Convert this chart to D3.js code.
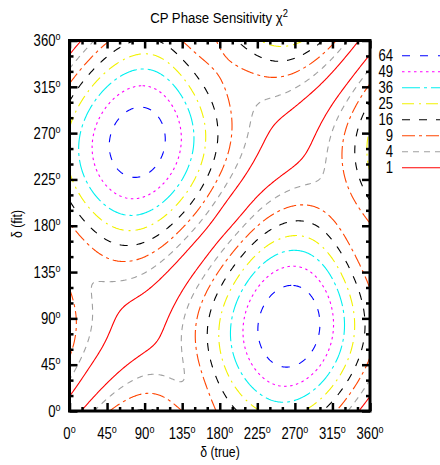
<!DOCTYPE html>
<meta charset="utf-8">
<script src="https://d3js.org/d3.v7.min.js"></script>
<style>
  body { margin: 0; background: #fff; }
  svg text { font-family: 'Liberation Sans', Arial, sans-serif; fill: #000; }
</style>
<div id="chart"></div>
<script>
  // grid nodes (degrees), same for delta(true) and delta(fit)
  var deltaNodes = [0, 30, 60, 90, 120, 150, 180, 210, 240, 270, 300, 330];

  // chi^2 estimated from the plot, one row per delta(true) node,
  // columns are the delta(fit) nodes above
  var chi2Grid = [
    [0, 3.9, 10.5, 12.5, 8.8, 5.3, 8.4, 18.0, 26.5, 26.1, 16.4, 4.8],
    [4.1, 0, 1.9, 3.6, 3.8, 7.3, 18.6, 35.7, 49.1, 49.7, 36.5, 17.7],
    [12.2, 2.2, 0, 0.7, 3.0, 10.7, 27.3, 49.6, 67.0, 69.4, 54.9, 31.9],
    [16.9, 5.0, 0.8, 0, 1.5, 9.1, 26.5, 50.3, 69.7, 74.0, 60.7, 37.8],
    [12.8, 4.3, 2.2, 1.2, 0, 3.4, 16.3, 36.7, 54.9, 60.0, 49.2, 29.7],
    [6.6, 5.7, 8.3, 7.9, 3.3, 0, 4.8, 17.7, 30.9, 35.1, 27.7, 15.2],
    [10.0, 17.5, 24.8, 24.5, 15.6, 4.7, 0, 4.0, 11.5, 14.9, 12.3, 8.5],
    [19.0, 35.1, 48.4, 49.6, 37.0, 18.4, 4.3, 0, 2.2, 4.8, 5.6, 8.7],
    [27.8, 50.7, 69.2, 72.5, 58.2, 34.5, 13.5, 2.5, 0, 0.9, 3.4, 11.1],
    [27.7, 52.8, 73.7, 78.8, 65.3, 41.1, 18.7, 5.6, 0.9, 0, 1.5, 9.5],
    [17.5, 39.1, 58.2, 63.7, 52.6, 32.6, 15.0, 5.9, 3.1, 1.5, 0, 3.7],
    [5.1, 18.4, 31.6, 35.2, 27.3, 14.9, 7.2, 7.3, 10.1, 9.1, 3.6, 0]
  ];

  var levels = [1, 4, 9, 16, 25, 36, 49, 64];
  var majorTicks = [0, 45, 90, 135, 180, 225, 270, 315, 360];
  var minorTicks = [15, 30, 60, 75, 105, 120, 150, 165, 195, 210, 240, 255, 285, 300, 330, 345];

  // gnuplot-ish line types per level
  var lineStyle = {
    1:  {color: "#ff0000", dash: null},
    4:  {color: "#a0a0a0", dash: "6,5"},
    9:  {color: "#ff4500", dash: "13,4,3,4"},
    16: {color: "#000000", dash: "8,9"},
    25: {color: "#f2f200", dash: "12,5,2,5"},
    36: {color: "#00f0f0", dash: "18,4,3,4"},
    49: {color: "#ff00ff", dash: "2.5,3.5"},
    64: {color: "#0000ff", dash: "8,10"}
  };

  var box = {left: 69.5, right: 370, top: 40.5, bottom: 411};
  var narrow = 0.82; // the original uses a condensed face

  var svg = d3.select("#chart")
    .append("svg")
    .attr("width", 440)
    .attr("height", 465);

  var x = d3.scaleLinear().domain([0, 360]).range([box.left, box.right]);
  var y = d3.scaleLinear().domain([0, 360]).range([box.bottom, box.top]);

  // periodic trig resampling of the 30 deg grid onto 1 deg steps
  var N = deltaNodes.length, M = 361;
  function kernel(u) {
    var r = u * Math.PI / 180, s = Math.sin(r / 2);
    if (Math.abs(s) < 1e-9) return 1;
    return Math.sin(N * r / 2) * Math.cos(r / 2) / (N * s);
  }
  var K = d3.range(M).map(function(p) {
    return deltaNodes.map(function(n) { return kernel(p - n); });
  });
  var rowsFine = chi2Grid.map(function(row) {
    return K.map(function(k) {
      return d3.sum(row, function(v, j) { return v * k[j]; });
    });
  });
  var values = new Float64Array(M * M);
  for (var q = 0; q < M; q++) {
    for (var p = 0; p < M; p++) {
      var s = 0;
      for (var i = 0; i < N; i++) s += K[p][i] * rowsFine[i][q];
      values[p + q * M] = s;
    }
  }

  var contours = d3.contours().size([M, M]).thresholds(levels)(values);

  // drop the bits of each ring that run along the grid border
  function onBorder(a, b) {
    return (a[0] <= 0 && b[0] <= 0) || (a[0] >= M && b[0] >= M) ||
           (a[1] <= 0 && b[1] <= 0) || (a[1] >= M && b[1] >= M);
  }
  function pieces(ring) {
    var n = ring.length - 1, start = -1;
    for (var k = 0; k < n; k++) {
      if (onBorder(ring[k], ring[k + 1])) { start = k + 1; break; }
    }
    if (start < 0) return [ring];
    var out = [], cur = [ring[start % n]];
    for (var k = 0; k < n; k++) {
      var a = ring[(start + k) % n], b = ring[(start + k + 1) % n];
      if (onBorder(a, b)) {
        if (cur.length > 1) out.push(cur);
        cur = [b];
      } else cur.push(b);
    }
    if (cur.length > 1) out.push(cur);
    return out;
  }

  var line = d3.line()
    .x(function(d) { return x(d[0] - 0.5); })
    .y(function(d) { return y(d[1] - 0.5); });

  svg.append("clipPath").attr("id", "plotclip")
    .append("rect")
    .attr("x", box.left).attr("y", box.top)
    .attr("width", box.right - box.left).attr("height", box.bottom - box.top);

  var plotG = svg.append("g").attr("clip-path", "url(#plotclip)");

  contours.forEach(function(c) {
    var st = lineStyle[c.value];
    var segs = [];
    c.coordinates.forEach(function(poly) {
      poly.forEach(function(ring) { segs = segs.concat(pieces(ring)); });
    });
    plotG.selectAll(null)
      .data(segs)
      .enter()
      .append("path")
      .attr("d", line)
      .attr("fill", "none")
      .attr("stroke", st.color)
      .attr("stroke-width", 1.1)
      .attr("stroke-dasharray", st.dash);
  });

  // ticks on all four sides, pointing inwards
  function tickAxis(axis, tr, size, vals) {
    svg.append("g")
      .attr("transform", tr)
      .call(axis.tickValues(vals).tickSize(-size).tickSizeOuter(0).tickFormat(""))
      .call(function(g) {
        g.select(".domain").remove();
        g.selectAll("line").attr("stroke", "#000").attr("stroke-width", 2.5);
      });
  }
  [[majorTicks, 8], [minorTicks, 4]].forEach(function(t) {
    tickAxis(d3.axisBottom(x), "translate(0," + box.bottom + ")", t[1], t[0]);
    tickAxis(d3.axisTop(x), "translate(0," + box.top + ")", t[1], t[0]);
    tickAxis(d3.axisLeft(y), "translate(" + box.left + ",0)", t[1], t[0]);
    tickAxis(d3.axisRight(y), "translate(" + box.right + ",0)", t[1], t[0]);
  });

  svg.append("rect")
    .attr("x", box.left).attr("y", box.top)
    .attr("width", box.right - box.left).attr("height", box.bottom - box.top)
    .attr("fill", "none").attr("stroke", "#000").attr("stroke-width", 3);

  // text helper: place at (px, py) squeezed horizontally
  function placed(sel, px, py, sx) {
    return sel.attr("transform", function(d) {
      var a = typeof px === "function" ? px(d) : px;
      var b = typeof py === "function" ? py(d) : py;
      return "translate(" + a + "," + b + ") scale(" + (sx || narrow) + ",1)";
    });
  }

  // degree labels with a raised "o"
  function degLabel(sel) {
    sel.append("tspan").text(function(d) { return d; });
    sel.append("tspan").attr("dy", -6).attr("font-size", 11).text("o");
  }
  svg.selectAll(".xlab")
    .data(majorTicks)
    .enter().append("text")
    .attr("class", "xlab")
    .attr("text-anchor", "middle")
    .attr("font-size", 16)
    .call(placed, function(d) { return x(d); }, 439)
    .call(degLabel);

  svg.selectAll(".ylab")
    .data(majorTicks)
    .enter().append("text")
    .attr("class", "ylab")
    .attr("text-anchor", "end")
    .attr("font-size", 16)
    .call(placed, 60.5, function(d) { return y(d) + 5.7; })
    .call(degLabel);

  // title and axis titles
  var title = svg.append("text")
    .attr("text-anchor", "middle")
    .attr("font-size", 15.5)
    .call(placed, 219, 23, 0.85);
  title.append("tspan").text("CP Phase Sensitivity \u03c7");
  title.append("tspan").attr("dy", -6).attr("font-size", 11).text("2");

  svg.append("text")
    .attr("text-anchor", "middle")
    .attr("font-size", 15)
    .call(placed, 220, 457)
    .text("\u03b4 (true)");

  svg.append("text")
    .attr("transform", "translate(22,224) rotate(-90) scale(" + narrow + ",1)")
    .attr("text-anchor", "middle")
    .attr("font-size", 15)
    .text("\u03b4 (fit)");

  // key
  var key = svg.selectAll(".key")
    .data(levels.slice().reverse())
    .enter().append("g")
    .attr("class", "key")
    .attr("transform", function(d, i) { return "translate(0," + (55.8 + i * 16) + ")"; });
  key.append("text")
    .attr("text-anchor", "end")
    .attr("font-size", 16)
    .call(placed, 393, 5.6)
    .text(function(d) { return d; });
  key.append("line")
    .attr("x1", 402).attr("x2", 446)
    .attr("stroke", function(d) { return lineStyle[d].color; })
    .attr("stroke-width", 1.1)
    .attr("stroke-dasharray", function(d) { return lineStyle[d].dash; });
</script>
